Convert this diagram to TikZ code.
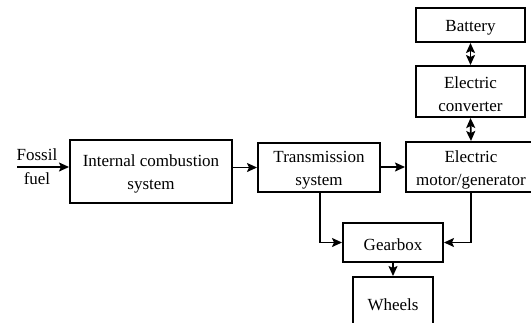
\documentclass[tikz,border=0pt]{standalone}
\usepackage{fontspec}
\setmainfont{Liberation Serif}
\usetikzlibrary{arrows.meta}
\newcommand{\tup}{\rule{0pt}{17pt}}
\begin{document}
\begin{tikzpicture}[x=1pt,y=-1pt,
  blk/.style={draw,line width=2pt,inner sep=0pt,align=center,font=\fontsize{17}{23}\selectfont},
  tip/.style={},
  arr/.style={line width=1.6pt,-{Stealth[length=10pt,width=9pt,inset=2pt]}},
  darr/.style={line width=1.6pt,{Stealth[length=10pt,width=9pt,inset=2pt]}-{Stealth[length=10pt,width=9pt,inset=2pt]}}]
\useasboundingbox (0,0) rectangle (531,322);
\clip (0,0) rectangle (531,322);
\node[blk,minimum width=162pt,minimum height=63pt] (ice) at (151,171.5) {\tup Internal combustion\\system};
\node[blk,minimum width=122pt,minimum height=49pt] (trans) at (319,167.5) {\tup Transmission\\system};
\node[blk,minimum width=130pt,minimum height=50pt] (mot) at (471,167) {\tup Electric\\motor/generator};
\node[blk,minimum width=109pt,minimum height=34pt] (bat) at (470.5,25) {\tup Battery};
\node[blk,minimum width=109pt,minimum height=51pt] (conv) at (470.5,91.5) {\tup Electric\\converter};
\node[blk,minimum width=100pt,minimum height=39pt] (gear) at (393,242.5) {\tup Gearbox};
\node[blk,minimum width=80pt,minimum height=50pt] (wh) at (393,302) {\tup Wheels};
\node[align=center,inner sep=0pt,font=\fontsize{17}{24}\selectfont] (fuel) at (37,167) {Fossil\\fuel};
\coordinate (fs) at (17,167);
\draw[arr] (fs) -- (ice.west |- fs);
\draw[arr] (ice.east |- trans.west) -- (trans.west);
\draw[arr] (trans.east |- mot.west) -- (mot.west);
\draw[darr] (bat.south) -- (conv.north);
\draw[darr] (conv.south) -- (mot.north);
\draw[arr] (trans.south -| 320,0) |- (gear.west);
\draw[arr] (mot.south) |- (gear.east);
\draw[arr] (gear.south) -- (wh.north);
\end{tikzpicture}
\end{document}
